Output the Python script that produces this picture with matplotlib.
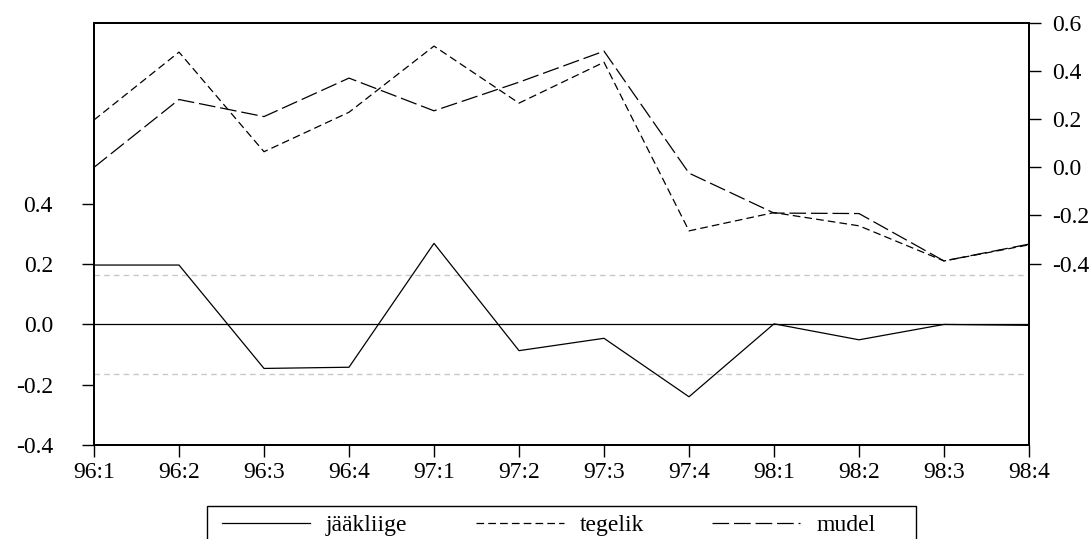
import matplotlib
matplotlib.use("Agg")
import matplotlib.pyplot as plt
from matplotlib.patches import Rectangle

periods = ["96:1", "96:2", "96:3", "96:4", "97:1", "97:2", "97:3", "97:4",
           "98:1", "98:2", "98:3", "98:4"]
jaakliige = [0.197, 0.197, -0.146, -0.142, 0.269, -0.087, -0.046, -0.240,
             0.002, -0.051, 0.000, -0.003]
tegelik = [0.197, 0.479, 0.065, 0.229, 0.504, 0.267, 0.437, -0.264,
           -0.188, -0.243, -0.389, -0.322]
mudel = [0.000, 0.282, 0.211, 0.371, 0.235, 0.354, 0.483, -0.024,
         -0.190, -0.192, -0.389, -0.319]
std_band = 0.163
left_ticks = [-0.4, -0.2, 0.0, 0.2, 0.4]
right_ticks = [-0.4, -0.2, 0.0, 0.2, 0.4, 0.6]

plt.rcParams['font.family'] = ['Liberation Serif', 'DejaVu Serif']
plt.rcParams['axes.unicode_minus'] = False
plt.rcParams['lines.scale_dashes'] = False
FS = 17

W, H = 1092, 539
fig = plt.figure(figsize=(W / 100, H / 100), dpi=100)
ax = fig.add_axes([94 / W, 1 - 445 / H, (1029 - 94) / W, (445 - 23) / H])
ax2 = ax.twinx()

x = list(range(len(periods)))

# left axis: residuals
ax.axhline(0, color='black', lw=0.9, zorder=2)
ax.axhline(std_band, color='#c8c8c8', lw=1.0, ls=(0, (4, 3)), zorder=1)
ax.axhline(-std_band, color='#c8c8c8', lw=1.0, ls=(0, (4, 3)), zorder=1)
l1, = ax.plot(x, jaakliige, color='black', lw=0.9, label='jääkliige', zorder=3)
ax.set_ylim(-0.4, 1.0)
ax.set_yticks(left_ticks)
ax.set_yticklabels([f"{v:.1f}" for v in left_ticks])
ax.set_xlim(0, len(periods) - 1)
ax.set_xticks(x)
ax.set_xticklabels(periods)

# right axis: actual and fitted
l2, = ax2.plot(x, tegelik, color='black', lw=0.9, ls=(0, (5.5, 3.0)), label='tegelik')
l3, = ax2.plot(x, mudel, color='black', lw=0.9, ls=(0, (12, 3.5)), label='mudel')
ax2.set_ylim(-1.154, 0.6)
ax2.set_yticks(right_ticks)
ax2.set_yticklabels([f"{v:.1f}" for v in right_ticks])

for a in (ax, ax2):
    for s in a.spines.values():
        s.set_linewidth(1.4)
    a.tick_params(labelsize=FS, width=1.0, length=8.6, direction='out')
ax.tick_params(axis='y', pad=21)
ax.tick_params(axis='x', pad=4)
ax2.tick_params(axis='y', pad=8)

# legend box (extends below the figure edge as in reference)
fig.add_artist(Rectangle((207 / W, 1 - 560 / H), (916 - 207) / W, (560 - 506) / H,
                         transform=fig.transFigure, fill=False, edgecolor='black',
                         lw=1.0))
fig.legend(handles=[l1, l2, l3], loc='center left',
           bbox_to_anchor=(222 / W, 1 - 525 / H), ncol=3, frameon=False,
           fontsize=FS, handlelength=3.73, handletextpad=0.68,
           columnspacing=2.88, borderpad=0, borderaxespad=0)

fig.savefig("out.png", dpi=100)
